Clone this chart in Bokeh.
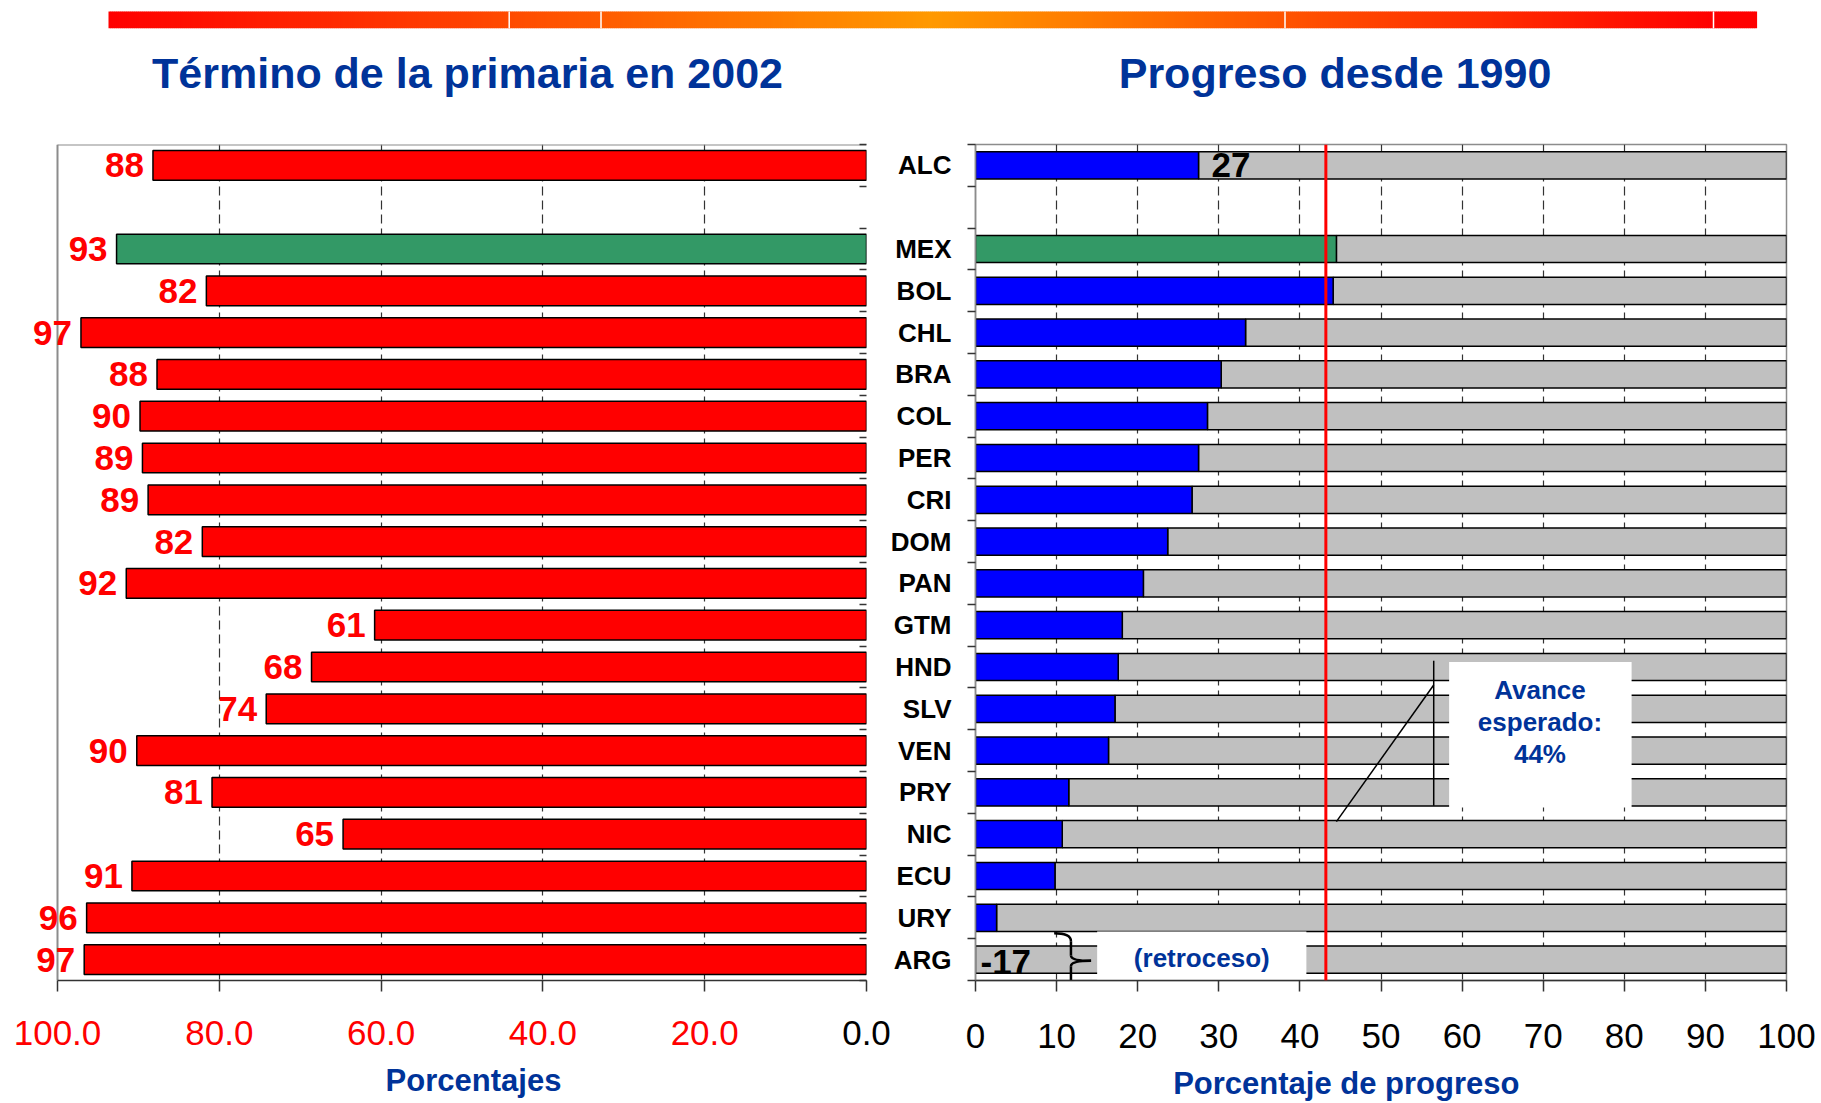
from bokeh.plotting import figure
from bokeh.layouts import column, row
from bokeh.models import Range1d, FixedTicker, LabelSet, Label, Span, ColumnDataSource
from bokeh.embed import file_html
from bokeh.resources import INLINE
from bokeh.core.properties import value

# ---------------- data ----------------
countries = ["ALC", "MEX", "BOL", "CHL", "BRA", "COL", "PER", "CRI", "DOM", "PAN",
             "GTM", "HND", "SLV", "VEN", "PRY", "NIC", "ECU", "URY", "ARG"]
completion_2002 = [88.2, 92.7, 81.6, 97.1, 87.7, 89.8, 89.5, 88.8, 82.1, 91.5,
                   60.8, 68.6, 74.2, 90.2, 80.9, 64.7, 90.8, 96.4, 96.7]
completion_labels = [88, 93, 82, 97, 88, 90, 89, 89, 82, 92,
                     61, 68, 74, 90, 81, 65, 91, 96, 97]
progress_1990 = [27.5, 44.5, 44.1, 33.3, 30.3, 28.6, 27.5, 26.7, 23.7, 20.7,
                 18.1, 17.6, 17.2, 16.4, 11.5, 10.7, 9.8, 2.6, -17]
progress_labelled = ["ALC", "ARG"]
expected_progress = 43.2
expected_text = ["Avance", "esperado:", "44%"]
highlight = "MEX"
left_ticks = [100, 80, 60, 40, 20, 0]
right_ticks = [0, 10, 20, 30, 40, 50, 60, 70, 80, 90, 100]
title_left = "Término de la primaria en 2002"
title_right = "Progreso desde 1990"
xlabel_left = "Porcentajes"
xlabel_right = "Porcentaje de progreso"

# ---------------- style ----------------
FONT = "Liberation Sans"
TXT_BLUE = "#003399"
RED = "#FF0000"
GREEN = "#339966"
BLUE = "#0000FF"
GRAY = "#C0C0C0"
OUTLINE = "#8c8c8c"
DARK = "#333333"

W = 1819
pos = [i if i == 0 else i + 1 for i in range(len(countries))]
bounds = [k - 0.5 for k in range(pos[-1] + 2)]
YR = (pos[-1] + 0.5, -0.5)

# pixel layout of the two frames
L100, L0 = 57, 866          # left chart: x of 100 and of 0
LFRAME = 10                 # left frame starts here (room for value labels)
R0, R100 = 975, 1786        # right chart: x of 0 and of 100
LS = (L0 - L100) / 100.0
RS = (R100 - R0) / 100.0
ROW_TOP, FRAME_TOP, FRAME_BOT = 138, 144, 980
FOOT_H = 109

# ---------------- header ----------------
hdr = figure(width=W, height=ROW_TOP, x_range=Range1d(0, W), y_range=Range1d(ROW_TOP, 0),
             toolbar_location=None, output_backend="svg", x_axis_location=None,
             y_axis_location=None, min_border=0)
hdr.grid.visible = False
hdr.outline_line_color = None
gx, gcol = [], []
x = 108.0
while x < 1756:
    if x < 929:
        g = 153 * max(0.0, 1 - (929 - x) / 821)
    else:
        g = 153 * max(0.0, 1 - (x - 929) / 784)
    gx.append(x)
    gcol.append("#%02x%02x%02x" % (255, int(round(g)), 0))
    x += 2
hdr.quad(left=gx, right=[v + 2.6 for v in gx], top=11, bottom=27.7, fill_color=gcol, line_color=None)
seps = [508.7, 600.5, 1284.5, 1713]
hdr.segment(x0=seps, y0=11, x1=seps, y1=27.7, line_color="white", line_width=1.5)
hdr.text(x=[467, 1334.5], y=[72, 72], text=[title_left, title_right], text_font=value(FONT),
         text_font_size="43px", text_font_style="bold", text_color=TXT_BLUE,
         text_align="center", text_baseline="middle")


def style_x_axis(ax, ticks):
    ax.ticker = FixedTicker(ticks=ticks)
    ax.bounds = (0, 100)
    ax.axis_line_color = DARK
    ax.axis_line_width = 1.5
    ax.major_tick_line_color = DARK
    ax.major_tick_line_width = 1.5
    ax.major_tick_out = 11
    ax.major_tick_in = 0
    ax.minor_tick_line_color = None
    ax.major_label_overrides = {t: "" for t in ticks}
    ax.major_label_text_font_size = "0px"
    ax.major_label_standoff = 0


def style_grid(g, ticks):
    g.ticker = FixedTicker(ticks=ticks)
    g.grid_line_color = DARK
    g.grid_line_dash = "9 5"
    g.grid_line_width = 1.2


MB_TOP = FRAME_TOP - ROW_TOP
MB_BOT = 12
ROW_H = MB_TOP + (FRAME_BOT - FRAME_TOP) + MB_BOT

# ---------------- left chart ----------------
lw = 10 + (L0 - LFRAME) + 4
pl = figure(width=lw, height=ROW_H, x_range=Range1d(100 + (L100 - LFRAME) / LS, 0),
            y_range=Range1d(*YR), toolbar_location=None, output_backend="svg",
            y_axis_location="right", min_border_left=LFRAME, min_border_right=4,
            min_border_top=MB_TOP, min_border_bottom=MB_BOT)
pl.outline_line_color = None
pl.ygrid.visible = False
style_grid(pl.xgrid[0], [t for t in left_ticks if t < 100])
style_x_axis(pl.xaxis[0], left_ticks)
ya = pl.yaxis[0]
ya.ticker = FixedTicker(ticks=pos, minor_ticks=bounds)
ya.major_label_overrides = {p: "" for p in pos}
ya.major_label_standoff = 0
ya.major_label_text_font_size = "0px"
ya.axis_line_color = None
ya.major_tick_in = 0
ya.major_tick_out = 0
ya.minor_tick_in = 7
ya.minor_tick_out = 0
ya.minor_tick_line_color = DARK
ya.minor_tick_line_width = 1.5
# frame border (left and top), grey like the original
pl.segment(x0=[100, 100], y0=[YR[1], YR[1]], x1=[100, 0], y1=[YR[0], YR[1]],
           line_color=OUTLINE, line_width=2)

lsrc = ColumnDataSource(dict(
    y=pos, v=completion_2002, lab=[str(v) for v in completion_labels],
    color=[GREEN if c == highlight else RED for c in countries]))
pl.hbar(y="y", left=0, right="v", height=0.71, fill_color="color", line_color="black",
        line_width=1.5, source=lsrc)
pl.add_layout(LabelSet(x="v", y="y", text="lab", source=lsrc, x_offset=-9,
                       text_align="right", text_baseline="middle", text_font=value(FONT),
                       text_font_size="35px", text_font_style="bold", text_color=RED))

# ---------------- right chart ----------------
rw = W - lw
pr = figure(width=rw, height=ROW_H, x_range=Range1d(0, 100), y_range=Range1d(*YR),
            toolbar_location=None, output_backend="svg",
            min_border_left=R0 - lw, min_border_right=W - R100,
            min_border_top=MB_TOP, min_border_bottom=MB_BOT)
pr.outline_line_color = OUTLINE
pr.outline_line_width = 1.5
pr.ygrid.visible = False
style_grid(pr.xgrid[0], right_ticks)
style_x_axis(pr.xaxis[0], right_ticks)
yb = pr.yaxis[0]
yb.ticker = FixedTicker(ticks=pos, minor_ticks=bounds)
yb.major_label_overrides = {p: c for p, c in zip(pos, countries)}
yb.major_tick_in = 0
yb.major_tick_out = 0
yb.minor_tick_in = 0
yb.minor_tick_out = 8
yb.minor_tick_line_color = DARK
yb.minor_tick_line_width = 1.5
yb.axis_line_color = OUTLINE
yb.axis_line_width = 1.5
yb.major_label_standoff = 16
yb.major_label_text_font = FONT
yb.major_label_text_font_size = "26px"
yb.major_label_text_font_style = "bold"
yb.major_label_text_color = "black"

pos_progress = [max(v, 0) for v in progress_1990]
rsrc_gray = ColumnDataSource(dict(y=pos, l=pos_progress))
pr.hbar(y="y", left="l", right=100, height=0.65, fill_color=GRAY, line_color="black",
        line_width=1.5, source=rsrc_gray)
keep = [i for i, v in enumerate(progress_1990) if v > 0]
rsrc = ColumnDataSource(dict(
    y=[pos[i] for i in keep], r=[progress_1990[i] for i in keep],
    color=[GREEN if countries[i] == highlight else BLUE for i in keep]))
pr.hbar(y="y", left=0, right="r", height=0.65, fill_color="color", line_color="black",
        line_width=1.5, source=rsrc)

# retroceso mask and brace
pr.quad(left=15.0, right=40.8, top=18.33, bottom=19.5, fill_color="white", line_color=None)
bz = [  # x0, y0, x1, y1, cx0, cy0, cx1, cy1
    (9.7, 18.37, 11.77, 18.56, 11.0, 18.37, 11.77, 18.43),
    (11.77, 18.56, 11.77, 18.9, 11.77, 18.56, 11.77, 18.9),
    (11.77, 18.9, 14.25, 19.03, 11.77, 19.0, 12.8, 19.03),
    (14.25, 19.03, 11.77, 19.16, 12.8, 19.03, 11.77, 19.06),
    (11.77, 19.16, 11.77, 19.55, 11.77, 19.16, 11.77, 19.55),
    (11.77, 19.55, 9.7, 19.72, 11.77, 19.66, 11.0, 19.72),
]
pr.bezier(x0=[b[0] for b in bz], y0=[b[1] for b in bz], x1=[b[2] for b in bz], y1=[b[3] for b in bz],
          cx0=[b[4] for b in bz], cy0=[b[5] for b in bz], cx1=[b[6] for b in bz], cy1=[b[7] for b in bz],
          line_color="black", line_width=2.5)

# callout box
pr.quad(left=58.4, right=80.9, top=11.88, bottom=15.36, fill_color="white", line_color=None)
pr.segment(x0=[56.5, 56.5], y0=[11.85, 12.43], x1=[56.5, 44.5], y1=[15.32, 15.7],
           line_color="black", line_width=1.5)
for k, t in enumerate(expected_text):
    pr.add_layout(Label(x=69.6, y=12.55 + 0.76 * k, text=t, text_font=FONT, text_font_size="26px",
                        text_font_style="bold", text_color=TXT_BLUE, text_align="center",
                        text_baseline="middle"))

pr.add_layout(Span(location=expected_progress, dimension="height", line_color="red", line_width=3))

for c in progress_labelled:
    i = countries.index(c)
    v = progress_1990[i]
    pr.add_layout(Label(x=max(v, 0), y=pos[i] + (0.0 if v > 0 else 0.05),
                        x_offset=(13 if v > 0 else 5), text="%d" % int(v),
                        text_font=FONT, text_font_size="35px", text_font_style="bold",
                        text_color="black", text_align="left", text_baseline="middle"))
pr.add_layout(Label(x=27.9, y=pos[-1] - 0.03, text="(retroceso)", text_font=FONT,
                    text_font_size="26px", text_font_style="bold", text_color=TXT_BLUE,
                    text_align="center", text_baseline="middle"))

# ---------------- footer: tick labels and axis titles ----------------
foot_top = ROW_TOP + ROW_H
ft = figure(width=W, height=FOOT_H,
            x_range=Range1d(100 + L100 / LS, -(W - L0) / LS),
            y_range=Range1d(foot_top + FOOT_H, foot_top),
            toolbar_location=None, output_backend="svg", x_axis_location=None,
            y_axis_location=None, min_border=0)
ft.extra_x_ranges = {"right": Range1d(-R0 / RS, (W - R0) / RS)}
ft.grid.visible = False
ft.outline_line_color = None
ft.text(x=left_ticks, y=[1032] * len(left_ticks), text=["%.1f" % t for t in left_ticks],
        text_color=[("black" if t == 0 else RED) for t in left_ticks], text_font=value(FONT),
        text_font_size="35px", text_align="center", text_baseline="middle")
ft.text(x=right_ticks, y=[1035] * len(right_ticks), text=["%d" % t for t in right_ticks],
        text_color="black", text_font=value(FONT), text_font_size="35px",
        text_align="center", text_baseline="middle", x_range_name="right")
ft.text(x=[100 - (473 - L100) / LS], y=[1080], text=[xlabel_left], text_color=TXT_BLUE,
        text_font=value(FONT), text_font_size="31px", text_font_style="bold",
        text_align="center", text_baseline="middle")
ft.text(x=[(1345.8 - R0) / RS], y=[1083], text=[xlabel_right], text_color=TXT_BLUE,
        text_font=value(FONT), text_font_size="31px", text_font_style="bold",
        text_align="center", text_baseline="middle", x_range_name="right")

layout = column(hdr, row(pl, pr, spacing=0), ft, spacing=0)
open("out.html", "w").write(file_html(layout, INLINE))
